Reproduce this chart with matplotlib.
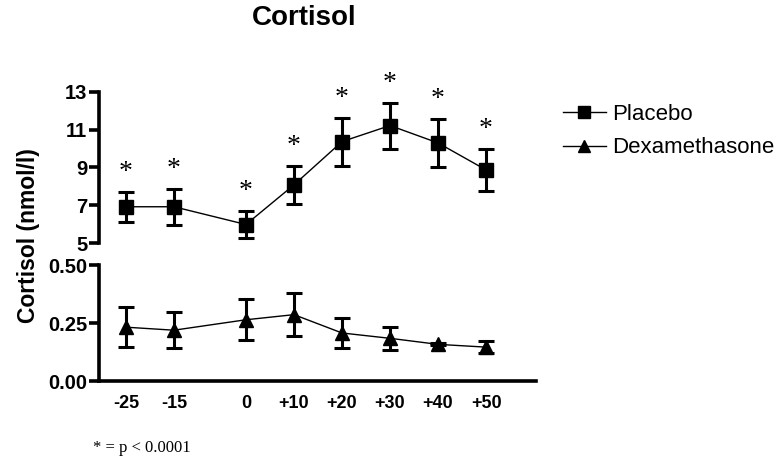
# Cortisol: placebo vs dexamethasone, broken y axis
import matplotlib
matplotlib.use("Agg")
import matplotlib.pyplot as plt
from matplotlib.lines import Line2D

# data (minutes relative to stimulus)
times = [-25, -15, 0, 10, 20, 30, 40, 50]
tick_labels = ["-25", "-15", "0", "+10", "+20", "+30", "+40", "+50"]

placebo = [6.92, 6.92, 5.98, 8.08, 10.37, 11.22, 10.30, 8.87]
placebo_err = [0.80, 0.95, 0.72, 1.00, 1.27, 1.22, 1.29, 1.13]

dexa = [0.232, 0.219, 0.264, 0.286, 0.207, 0.184, 0.158, 0.146]
dexa_err = [0.087, 0.078, 0.088, 0.094, 0.066, 0.050, 0.004, 0.027]

signif = [True] * len(times)

plt.rcParams["font.family"] = ["Liberation Sans", "DejaVu Sans"]

fig = plt.figure(figsize=(7.84, 4.62), dpi=100)
ax_top = fig.add_axes([0.1263, 0.474, 0.5574, 0.327])
ax_bot = fig.add_axes([0.1263, 0.1753, 0.5574, 0.2511])

xlim = (-30.6, 60.4)
eb_kw = dict(color="black", lw=1.0, elinewidth=2.2, capsize=5.5, capthick=2.2)

ax_top.errorbar(times, placebo, yerr=placebo_err, marker="s", ms=10, **eb_kw)
ax_bot.errorbar(times, dexa, yerr=dexa_err, marker="^", ms=10, **eb_kw)

# significance stars above the error bars
for x, y, e, s in zip(times, placebo, placebo_err, signif):
    if s:
        ax_top.annotate("*", (x, y + e), xytext=(0, 5), textcoords="offset points",
                        ha="center", va="bottom", fontsize=20,
                        family="Liberation Serif")

ax_top.set_xlim(*xlim)
ax_top.set_ylim(5, 13)
ax_top.set_yticks([5, 7, 9, 11, 13])
ax_top.set_xticks([])
for s in ["top", "right", "bottom"]:
    ax_top.spines[s].set_visible(False)

ax_bot.set_xlim(*xlim)
ax_bot.set_ylim(0, 0.5)
ax_bot.set_yticks([0, 0.25, 0.5])
ax_bot.set_yticklabels(["0.00", "0.25", "0.50"])
ax_bot.set_xticks(times)
ax_bot.set_xticklabels(tick_labels)
for s in ["top", "right"]:
    ax_bot.spines[s].set_visible(False)

for ax in (ax_top, ax_bot):
    for s in ["left", "bottom"]:
        ax.spines[s].set_linewidth(2.6)
    ax.tick_params(axis="y", length=7, width=2.6, labelsize=14.5, pad=1.5)
    for lab in ax.get_yticklabels():
        lab.set_fontweight("bold")
    ax.set_facecolor("none")
ax_bot.tick_params(axis="x", length=0, labelsize=13, pad=10)
for lab in ax_bot.get_xticklabels():
    lab.set_fontweight("bold")

ax_top.set_title("Cortisol", fontsize=20, fontweight="bold", pad=48, x=0.47)
fig.text(0.036, 0.49, "Cortisol (nmol/l)", rotation=90, ha="center", va="center",
         fontsize=16.5, fontweight="bold")
fig.text(0.118, 0.022, "* = p < 0.0001", fontsize=12, family="Liberation Serif")

handles = [
    Line2D([], [], color="black", lw=1.0, marker="s", ms=8),
    Line2D([], [], color="black", lw=1.0, marker="^", ms=8),
]
fig.legend(handles, ["Placebo", "Dexamethasone"], loc="upper left",
           bbox_to_anchor=(0.693, 0.818), frameon=False, fontsize=16,
           handlelength=1.9, handletextpad=0.3, labelspacing=0.55)

fig.savefig("out.png", dpi=100)
